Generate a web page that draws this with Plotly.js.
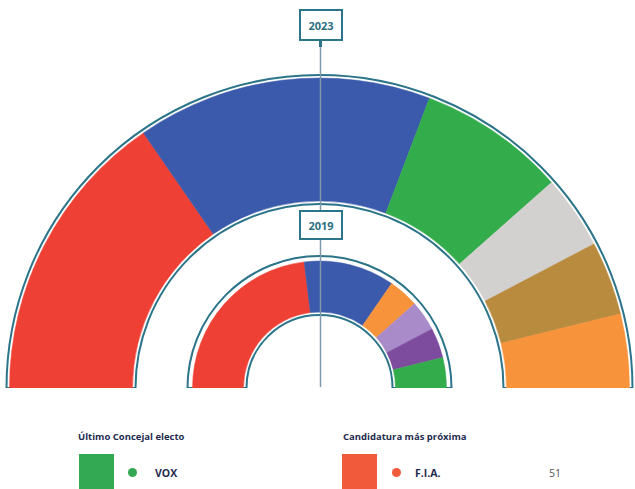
<!DOCTYPE html>
<html>
<head>
<meta charset="utf-8">
<script src="https://cdn.plot.ly/plotly-3.0.1.min.js"></script>
<style>html,body{margin:0;padding:0;background:#fff;}#chart{width:635px;height:489px;}</style>
</head>
<body>
<div id="chart"></div>
<script>
// ---- data ----
const parties2023 = ["PSOE", "PP", "VOX", "Otros", "Candidatura", "F.I.A."];
const seats2023   = [8, 8, 4, 2, 2, 2];
const colors2023  = ["#ef4035", "#3b5aab", "#33ac4c", "#d3d0d0", "#b98b3f", "#f7933b"];

const parties2019 = ["PSOE", "PP", "Cs", "Podemos", "IU", "VOX"];
const seats2019   = [6, 3, 1, 1, 1, 1];
const colors2019  = ["#ef4035", "#3b5aab", "#f7933b", "#a98bc9", "#7d4c9f", "#33ac4c"];

const yearLabels = ["2023", "2019"];
const lastElectedLabel = "Último Concejal electo";
const lastElectedParty = "VOX";
const nextLabel = "Candidatura más próxima";
const nextParty = "F.I.A.";
const nextVotes = "51";

// ---- helpers ----
const W = 635, H = 489;
const X = px => px / W;
const Y = py => 1 - py / H;
const OUTLINE = "#2c7489";

function ringTraces(names, vals, cols, base, len, outBase, outLen) {
  const total = vals.reduce((a, b) => a + b, 0);
  let cum = 0;
  const theta = [], width = [];
  vals.forEach(v => {
    theta.push((cum + v / 2) / total * 180);
    width.push(v / total * 180);
    cum += v;
  });
  return [
    {
      type: "barpolar", theta: [90], width: [180], base: [outBase], r: [outLen],
      marker: {color: "rgba(0,0,0,0)", line: {color: OUTLINE, width: 2}},
      hoverinfo: "skip", showlegend: false
    },
    {
      type: "barpolar", theta: theta, width: width,
      base: vals.map(() => base), r: vals.map(() => len),
      text: names, hoverinfo: "text",
      marker: {color: cols, line: {color: cols, width: 0.5}},
      showlegend: false
    }
  ];
}

const traces = [
  ...ringTraces(parties2023, seats2023, colors2023, 187, 123, 184, 129),
  ...ringTraces(parties2019, seats2019, colors2019, 76, 51, 73, 59)
];

const R = 315.5;
const layout = {
  width: W, height: H,
  margin: {l: 0, r: 0, t: 0, b: 0},
  paper_bgcolor: "#ffffff",
  showlegend: false,
  font: {family: "Open Sans, sans-serif"},
  polar: {
    domain: {x: [X(4), 1], y: [Y(388), Y(388 - R)]},
    sector: [0, 180],
    bgcolor: "rgba(0,0,0,0)",
    bargap: 0,
    radialaxis: {visible: false, range: [0, R]},
    angularaxis: {visible: false, rotation: 180, direction: "clockwise"}
  },
  shapes: [
    {type: "line", xref: "paper", yref: "paper", x0: X(320.5), x1: X(320.5), y0: Y(40), y1: Y(387),
     line: {color: "#7f98aa", width: 1.5}, layer: "above"},
    {type: "line", xref: "paper", yref: "paper", x0: X(320.5), x1: X(320.5), y0: Y(40), y1: Y(47),
     line: {color: OUTLINE, width: 3}, layer: "above"},
    // legend swatches
    {type: "rect", xref: "paper", yref: "paper", x0: X(79), x1: X(114), y0: Y(454), y1: Y(492),
     fillcolor: "#34a954", line: {width: 0}},
    {type: "circle", xref: "paper", yref: "paper", x0: X(128), x1: X(137), y0: Y(468), y1: Y(477),
     fillcolor: "#34a954", line: {width: 0}},
    {type: "rect", xref: "paper", yref: "paper", x0: X(342), x1: X(377), y0: Y(454), y1: Y(492),
     fillcolor: "#f15b3b", line: {width: 0}},
    {type: "circle", xref: "paper", yref: "paper", x0: X(392), x1: X(401), y0: Y(468), y1: Y(477),
     fillcolor: "#f15b3b", line: {width: 0}}
  ],
  annotations: [
    {text: "<b>" + yearLabels[0] + "</b>", xref: "paper", yref: "paper", x: X(320.5), y: Y(25),
     xanchor: "center", yanchor: "middle", showarrow: false,
     font: {size: 11, color: "#2c6f82", family: "Open Sans, sans-serif"},
     bgcolor: "#ffffff", bordercolor: OUTLINE, borderwidth: 2, borderpad: 3, width: 34, height: 22},
    {text: "<b>" + yearLabels[1] + "</b>", xref: "paper", yref: "paper", x: X(321), y: Y(225),
     xanchor: "center", yanchor: "middle", showarrow: false,
     font: {size: 11, color: "#2c6f82", family: "Open Sans, sans-serif"},
     bgcolor: "#ffffff", bordercolor: OUTLINE, borderwidth: 2, borderpad: 3, width: 34, height: 20},
    {text: "<b>" + lastElectedLabel + "</b>", xref: "paper", yref: "paper", x: X(76), y: Y(436),
     xanchor: "left", yanchor: "middle", showarrow: false,
     font: {size: 9.5, color: "#1f2c4f"}},
    {text: "<b>" + nextLabel + "</b>", xref: "paper", yref: "paper", x: X(341), y: Y(436),
     xanchor: "left", yanchor: "middle", showarrow: false,
     font: {size: 9.5, color: "#1f2c4f"}},
    {text: "<b>" + lastElectedParty + "</b>", xref: "paper", yref: "paper", x: X(153), y: Y(473),
     xanchor: "left", yanchor: "middle", showarrow: false,
     font: {size: 10.5, color: "#1f2c4f"}},
    {text: "<b>" + nextParty + "</b>", xref: "paper", yref: "paper", x: X(413), y: Y(473),
     xanchor: "left", yanchor: "middle", showarrow: false,
     font: {size: 10.5, color: "#1f2c4f"}},
    {text: nextVotes, xref: "paper", yref: "paper", x: X(547), y: Y(473),
     xanchor: "left", yanchor: "middle", showarrow: false,
     font: {size: 10.5, color: "#555555"}}
  ]
};

Plotly.newPlot("chart", traces, layout, {displayModeBar: false, staticPlot: true});
</script>
</body>
</html>
